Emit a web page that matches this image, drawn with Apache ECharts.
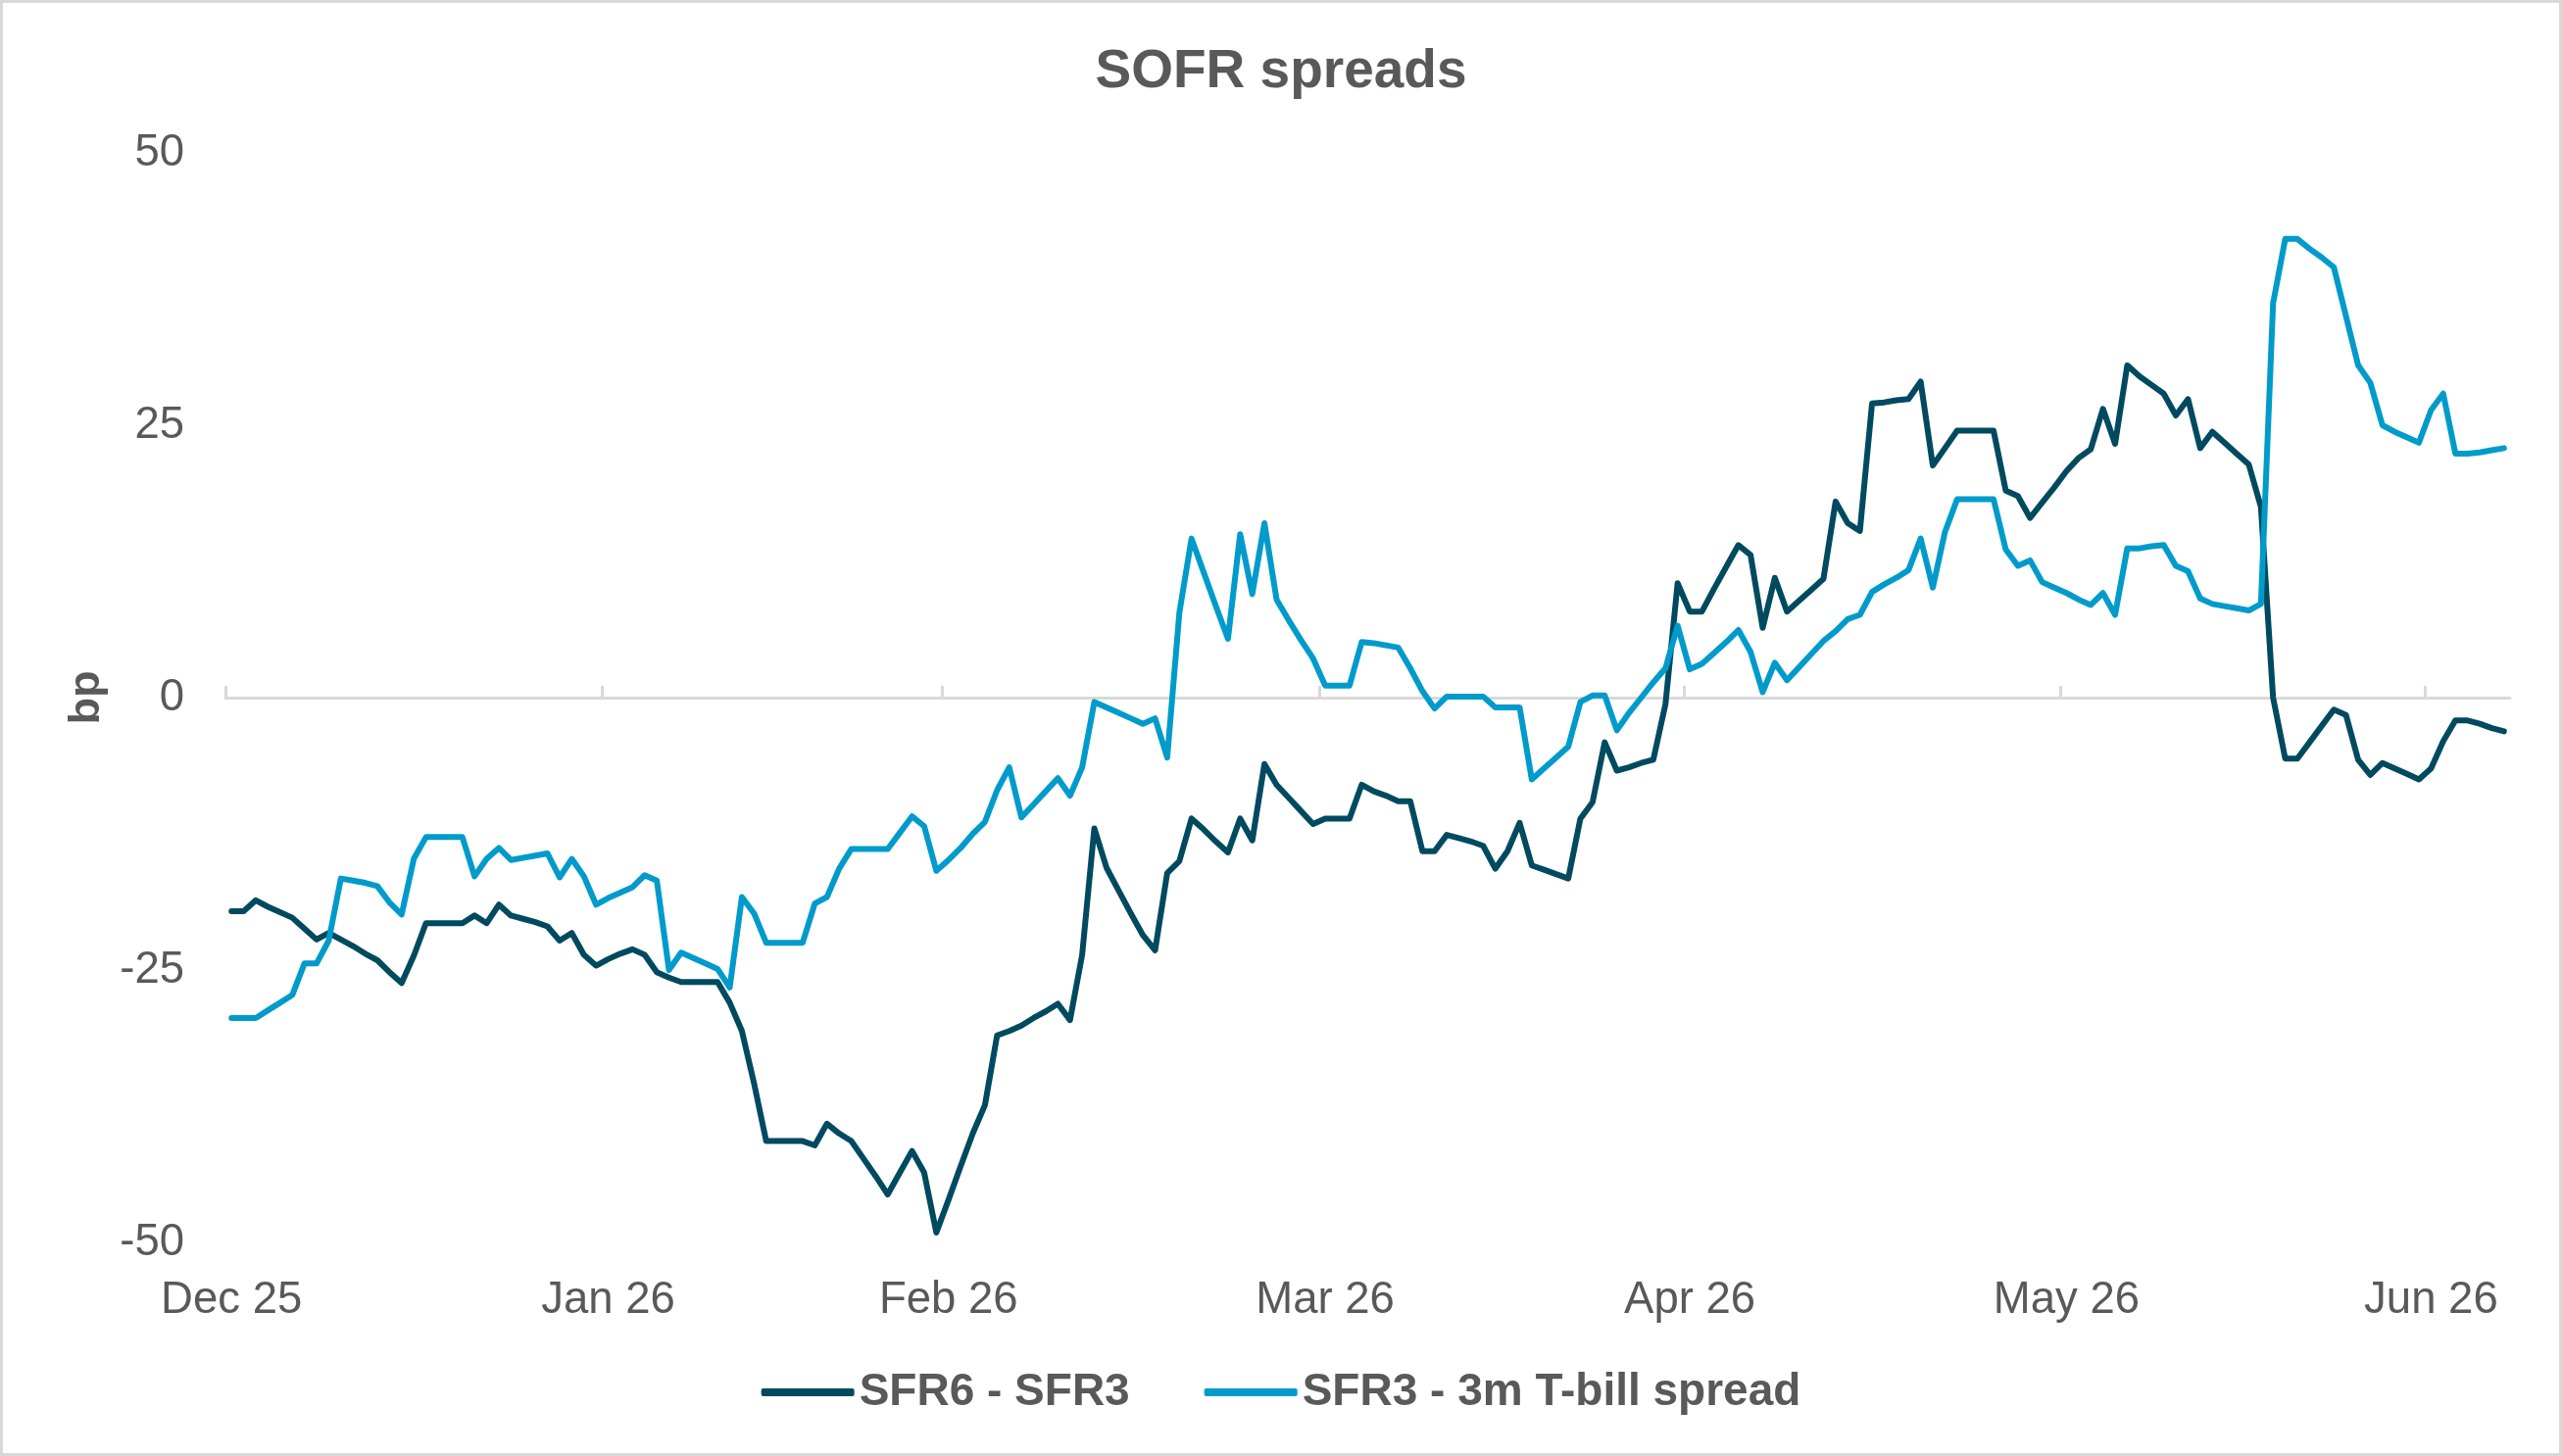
<!DOCTYPE html>
<html>
<head>
<meta charset="utf-8">
<title>SOFR spreads</title>
<script src="https://cdn.jsdelivr.net/npm/echarts@6/dist/echarts.min.js"></script>
<style>
  html, body { margin: 0; padding: 0; background: #fff; }
  #main { width: 2614px; height: 1486px; }
</style>
</head>
<body>
<div id="main"></div>
<script>
// one value per calendar day, weekends carry the Friday value
const sfr6Sfr3 = [
  -19.6, -19.6, -18.6, -19.2, -19.7, -20.2, -21.2, -22.2, -21.6, -22.2,
  -22.8, -23.5, -24.1, -25.2, -26.2, -23.7, -20.7, -20.7, -20.7, -20.7,
  -20.0, -20.7, -19.0, -20.0, -20.3, -20.6, -21.0, -22.3, -21.6, -23.6,
  -24.6, -24.0, -23.5, -23.1, -23.6, -25.2, -25.7, -26.1, -26.1, -26.1,
  -26.1, -28.0, -30.6, -35.4, -40.7, -40.7, -40.7, -40.7, -41.1, -39.1,
  -40.0, -40.7, -42.3, -43.9, -45.6, -43.6, -41.6, -43.6, -49.1, -46.1,
  -43.0, -40.0, -37.4, -31.0, -30.6, -30.1, -29.4, -28.8, -28.1, -29.6,
  -23.6, -12.0, -15.6, -17.7, -19.8, -21.8, -23.2, -16.1, -15.0, -11.1,
  -12.1, -13.2, -14.2, -11.1, -13.1, -6.1, -8.0, -9.2, -10.4, -11.6,
  -11.1, -11.1, -11.1, -8.0, -8.6, -9.0, -9.5, -9.5, -14.1, -14.1,
  -12.6, -12.9, -13.2, -13.6, -15.7, -14.1, -11.5, -15.4, -15.8, -16.2,
  -16.6, -11.1, -9.6, -4.1, -6.7, -6.4, -6.0, -5.7, -0.6, 10.5,
  7.9, 7.9, 10.0, 12.0, 14.0, 13.1, 6.4, 11.0, 7.9, 8.9,
  9.9, 10.9, 18.0, 16.0, 15.3, 27.0, 27.1, 27.3, 27.4, 29.0,
  21.3, 22.9, 24.5, 24.5, 24.5, 24.5, 19.0, 18.5, 16.5, 17.9,
  19.3, 20.8, 22.0, 22.8, 26.5, 23.3, 30.5, 29.5, 28.7, 27.9,
  25.9, 27.4, 22.9, 24.4, 23.4, 22.4, 21.4, 17.5, 0.0, -5.6,
  -5.6, -4.1, -2.6, -1.1, -1.6, -5.7, -7.1, -6.0, -6.5, -7.0,
  -7.5, -6.5, -4.0, -2.1, -2.1, -2.4, -2.8, -3.1
];
const sfr3Tbill = [
  -29.4, -29.4, -29.4, -28.7, -28.0, -27.3, -24.4, -24.4, -22.3, -16.6,
  -16.8, -17.0, -17.3, -18.8, -19.9, -14.8, -12.8, -12.8, -12.8, -12.8,
  -16.4, -14.8, -13.8, -14.9, -14.7, -14.5, -14.3, -16.5, -14.8, -16.4,
  -19.0, -18.4, -17.9, -17.4, -16.3, -16.8, -25.0, -23.4, -23.9, -24.4,
  -24.9, -26.6, -18.3, -19.8, -22.5, -22.5, -22.5, -22.5, -18.9, -18.3,
  -15.7, -13.9, -13.9, -13.9, -13.9, -12.4, -10.9, -11.8, -15.9, -14.9,
  -13.8, -12.5, -11.4, -8.5, -6.4, -11.0, -9.8, -8.6, -7.4, -9.0,
  -6.4, -0.4, -0.9, -1.4, -1.9, -2.4, -1.9, -5.5, 7.8, 14.6,
  11.5, 8.4, 5.4, 15.0, 9.5, 16.0, 9.0, 7.1, 5.3, 3.6,
  1.1, 1.1, 1.1, 5.1, 5.0, 4.8, 4.6, 2.7, 0.6, -1.0,
  0.1, 0.1, 0.1, 0.1, -0.9, -0.9, -0.9, -7.5, -6.5, -5.5,
  -4.5, -0.4, 0.2, 0.2, -3.0, -1.4, 0.0, 1.4, 2.7, 6.6,
  2.6, 3.1, 4.1, 5.1, 6.2, 4.2, 0.5, 3.2, 1.6, 2.8,
  4.0, 5.2, 6.1, 7.2, 7.6, 9.7, 10.4, 11.0, 11.7, 14.6,
  10.1, 15.2, 18.2, 18.2, 18.2, 18.2, 13.6, 12.1, 12.6, 10.6,
  10.1, 9.6, 9.0, 8.5, 9.6, 7.6, 13.7, 13.7, 13.9, 14.0,
  12.1, 11.6, 9.1, 8.6, 8.4, 8.2, 8.0, 8.6, 36.2, 42.1,
  42.1, 41.2, 40.4, 39.5, 35.0, 30.5, 28.9, 25.0, 24.4, 23.9,
  23.4, 26.4, 27.9, 22.4, 22.4, 22.5, 22.7, 22.9
];
const seriesNames = ['SFR6 - SFR3', 'SFR3 - 3m T-bill spread'];
const tickIndex = [0, 31, 59, 90, 120, 151, 181];
const tickLabels = ['Dec 25', 'Jan 26', 'Feb 26', 'Mar 26', 'Apr 26', 'May 26', 'Jun 26'];

const days = sfr6Sfr3.map((v, i) => i);
// day boundaries, so the month ticks sit between points like the original
const edges = days.concat(days.length);

const grey = '#595959';
const font = 'Liberation Sans, Arial, sans-serif';
const isMonth = (idx) => tickIndex.indexOf(idx) >= 0;

const chart = echarts.init(document.getElementById('main'));
chart.setOption({
  animation: false,
  textStyle: { fontFamily: font },
  title: {
    text: 'SOFR spreads',
    left: 'center',
    top: 41,
    textStyle: { fontSize: 55, fontWeight: 'bold', color: grey, fontFamily: font }
  },
  legend: {
    data: seriesNames,
    top: 1393,
    left: 'center',
    icon: 'roundRect',
    itemWidth: 95,
    itemHeight: 8,
    itemGap: 76,
    textStyle: { fontSize: 46, fontWeight: 'bold', color: grey, fontFamily: font }
  },
  grid: { left: 230, right: 53, top: 156, bottom: 218 },
  xAxis: [
    {
      type: 'category',
      data: days,
      boundaryGap: true,
      axisLine: { show: false, onZero: false },
      axisTick: { show: false },
      axisLabel: {
        interval: isMonth,
        formatter: (val, idx) => tickLabels[tickIndex.indexOf(idx)] || '',
        fontSize: 45.5,
        color: grey,
        margin: 36
      },
      splitLine: { show: false }
    },
    {
      type: 'category',
      data: edges,
      boundaryGap: false,
      axisLine: { onZero: true, onZeroAxisIndex: 0, lineStyle: { color: '#D9D9D9', width: 3 } },
      axisTick: { interval: isMonth, length: 12, lineStyle: { color: '#D9D9D9', width: 3 } },
      axisLabel: { show: false },
      splitLine: { show: false }
    }
  ],
  yAxis: {
    type: 'value',
    min: -50,
    max: 50,
    interval: 25,
    name: 'bp',
    nameLocation: 'middle',
    nameGap: 118,
    nameTextStyle: { fontSize: 45, fontWeight: 'bold', color: grey, fontFamily: font },
    axisLine: { show: false },
    axisTick: { show: false },
    axisLabel: { fontSize: 45.5, color: grey, margin: 42, padding: [10, 0, 0, 0] },
    splitLine: { show: false }
  },
  graphic: [{
    type: 'rect',
    z: -10,
    shape: { x: 1.5, y: 1.5, width: 2611, height: 1483 },
    style: { fill: 'none', stroke: '#D9D9D9', lineWidth: 3 }
  }],
  series: [
    {
      name: seriesNames[0],
      type: 'line',
      data: sfr6Sfr3,
      showSymbol: false,
      color: '#004A60',
      lineStyle: { width: 6, cap: 'round', join: 'round' }
    },
    {
      name: seriesNames[1],
      type: 'line',
      data: sfr3Tbill,
      showSymbol: false,
      color: '#009BCB',
      lineStyle: { width: 6, cap: 'round', join: 'round' }
    }
  ]
});
</script>
</body>
</html>
